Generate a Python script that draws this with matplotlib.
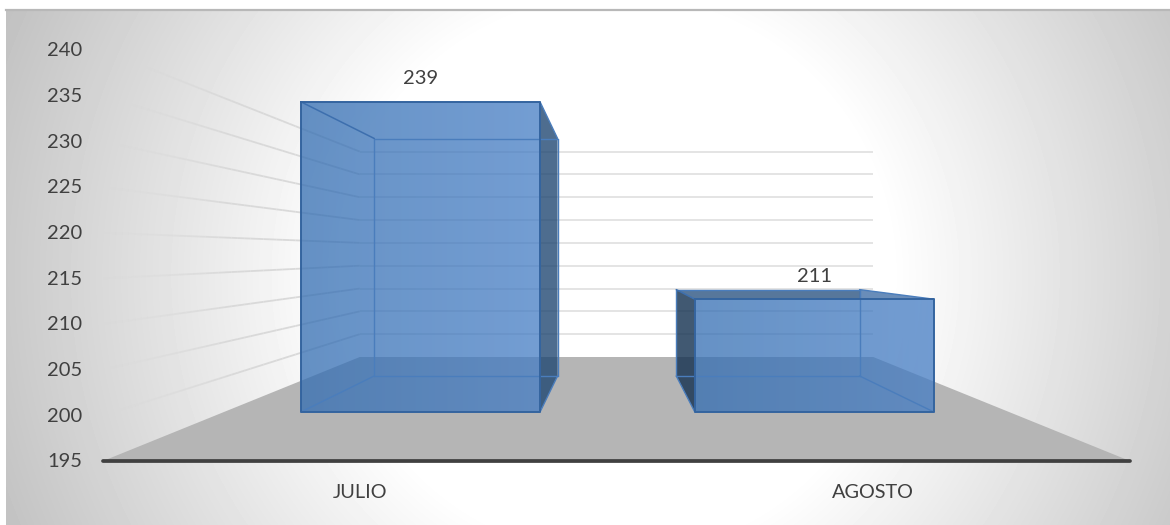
#!/usr/bin/env python3
import numpy as np
import matplotlib
matplotlib.use('Agg')
import matplotlib.pyplot as plt
from matplotlib.collections import LineCollection
from matplotlib.patches import Polygon

categories = ['JULIO', 'AGOSTO']
values = [239, 211]
y_ticks = [195, 200, 205, 210, 215, 220, 225, 230, 235, 240]

W, H = 1170, 525
# perspective set up, in pixels of the picture
VP_X, VP_Y = 616.5, 253.0
FLOOR_Y = 461.0
LEFT_X, RIGHT_X = 103.0, 1130.0
PX_PER_UNIT = 9.13
S_BACK = 0.5
BAR_WIDTH = 0.607
# depth planes of the bars: x scale, y scale, centre x, centre y
BAR_FRONT = (0.767, 0.772, 620.5, 246.0)
BAR_BACK = (0.588, 0.591, 617.5, 253.0)

plt.rcParams['font.family'] = ['Lato', 'DejaVu Sans']


# value and category position to picture position on one depth plane
def project(cat, val, plane):
    sx, sy, cx, cy = plane
    x0 = LEFT_X + (RIGHT_X - LEFT_X) * (cat + 0.5) / len(categories)
    y0 = FLOOR_Y - (val - y_ticks[0]) * PX_PER_UNIT
    return cx + sx * (x0 - cx), cy + sy * (y0 - cy)


def poly(ax, pts, color, alpha=1.0, zorder=3):
    ax.add_patch(Polygon(pts, closed=True, facecolor=color, edgecolor='none',
                         alpha=alpha, zorder=zorder))


def edge(ax, pts, color='#34649f', lw=1.4, zorder=6):
    xs, ys = zip(*pts)
    ax.plot(xs, ys, color=color, lw=lw, zorder=zorder, solid_capstyle='round')


fig = plt.figure(figsize=(W / 100, H / 100), dpi=100, facecolor='white')
ax = fig.add_axes([0, 0, 1, 1])
ax.axis('off')

# background, white in the middle and grey to the corners
xx, yy = np.meshgrid(np.arange(6, W), np.arange(10, H))
r = np.sqrt((xx - 615.0) ** 2 + (yy - 275.0) ** 2)
shade = 1.0 - np.clip((r - 275.0) / 385.0, 0, 1.1) * 0.24
ax.imshow(shade, extent=(6, W, H, 10), cmap='gray', vmin=0, vmax=1,
          aspect='auto', zorder=0, interpolation='bilinear')
ax.plot([6, W], [10, 10], color='#b8b8b8', lw=1.6, zorder=1)

# floor
left_front = (LEFT_X, FLOOR_Y)
right_front = (RIGHT_X, FLOOR_Y)
left_back = (VP_X + S_BACK * (LEFT_X - VP_X), VP_Y + S_BACK * (FLOOR_Y - VP_Y))
right_back = (VP_X + S_BACK * (RIGHT_X - VP_X), left_back[1])
poly(ax, [left_front, left_back, right_back, right_front], '#b5b5b5', zorder=2)

# grid lines, side wall fades out to the front
for t in y_ticks[1:]:
    y0 = FLOOR_Y - (t - y_ticks[0]) * PX_PER_UNIT
    yb = VP_Y + S_BACK * (y0 - VP_Y)
    ax.plot([left_back[0], right_back[0]], [yb, yb], color='#e2e2e2', lw=1.3,
            zorder=1.5, solid_capstyle='butt')
    ts = np.linspace(0, 1, 41)
    px = LEFT_X + ts * (left_back[0] - LEFT_X)
    py = y0 + ts * (yb - y0)
    segs = [[(px[i], py[i]), (px[i + 1], py[i + 1])] for i in range(len(ts) - 1)]
    cols = [(0.85, 0.85, 0.85, min(1.0, 0.03 + ts[i] * 2.0)) for i in range(len(ts) - 1)]
    ax.add_collection(LineCollection(segs, colors=cols, linewidths=1.3, zorder=1.5))

# axis line
ax.plot([LEFT_X, RIGHT_X], [FLOOR_Y, FLOOR_Y], color='#404040', lw=2.7, zorder=7,
        solid_capstyle='round')

# bars
for i, v in enumerate(values):
    xl, xr = i - BAR_WIDTH / 2, i + BAR_WIDTH / 2
    fbl = project(xl, y_ticks[0], BAR_FRONT)
    fbr = project(xr, y_ticks[0], BAR_FRONT)
    ftl = project(xl, v, BAR_FRONT)
    ftr = project(xr, v, BAR_FRONT)
    bbl = project(xl, y_ticks[0], BAR_BACK)
    bbr = project(xr, y_ticks[0], BAR_BACK)
    btl = project(xl, v, BAR_BACK)
    btr = project(xr, v, BAR_BACK)

    # the side we see depends on which side of the centre the bar stands
    if ftr[0] < VP_X:
        poly(ax, [ftr, btr, bbr, fbr], '#1c4470', alpha=0.78)
    else:
        poly(ax, [ftl, btl, bbl, fbl], '#12304f', alpha=0.8)
    # top face is only seen when it lies under the eye
    if btl[1] < ftl[1]:
        poly(ax, [btl, btr, (btr[0], ftl[1]), ftl], '#1f4a7a', alpha=0.75)
        poly(ax, [btr, ftr, (btr[0], ftr[1])], '#3f6da6', alpha=0.78)

    # front face, a bit darker to the left
    g = np.zeros((2, 64, 4))
    g[:, :, 0] = np.linspace(0.20, 0.27, 64)
    g[:, :, 1] = np.linspace(0.43, 0.49, 64)
    g[:, :, 2] = np.linspace(0.70, 0.77, 64)
    g[:, :, 3] = 0.75
    im = ax.imshow(g, extent=(fbl[0], fbr[0], fbl[1], ftl[1]), aspect='auto', zorder=4,
                   interpolation='bilinear')
    im.set_clip_path(Polygon([ftl, ftr, fbr, fbl], closed=True, transform=ax.transData))

    # back box edges, lighter
    for a, b in [(btl, btr), (btr, bbr), (bbr, bbl), (bbl, btl),
                 (ftr, btr), (fbl, bbl), (fbr, bbr)]:
        edge(ax, [a, b], color='#4a7dbc', lw=1.0, zorder=5)
    edge(ax, [ftl, btl], color='#3d6fae', lw=1.1, zorder=5)
    # front edges
    edge(ax, [ftl, ftr, fbr, fbl, ftl])
    ax.text((ftl[0] + ftr[0]) / 2, ftl[1] - 23, str(v), fontsize=14.5, color='#404040',
            ha='center', va='center', zorder=8)

# labels
for t in y_ticks:
    ax.text(82, FLOOR_Y - (t - y_ticks[0]) * PX_PER_UNIT + 0.7, str(t), fontsize=14.5, color='#404040',
            ha='right', va='center', zorder=8)
for i, c in enumerate(categories):
    x0 = project(i, y_ticks[0], (1.0, 1.0, VP_X, VP_Y))[0]
    ax.text(x0, 492, c, fontsize=14.3, color='#404040', ha='center', va='center', zorder=8)

ax.set_xlim(0, W)
ax.set_ylim(H, 0)
fig.savefig('out.png', dpi=100, facecolor='white')
